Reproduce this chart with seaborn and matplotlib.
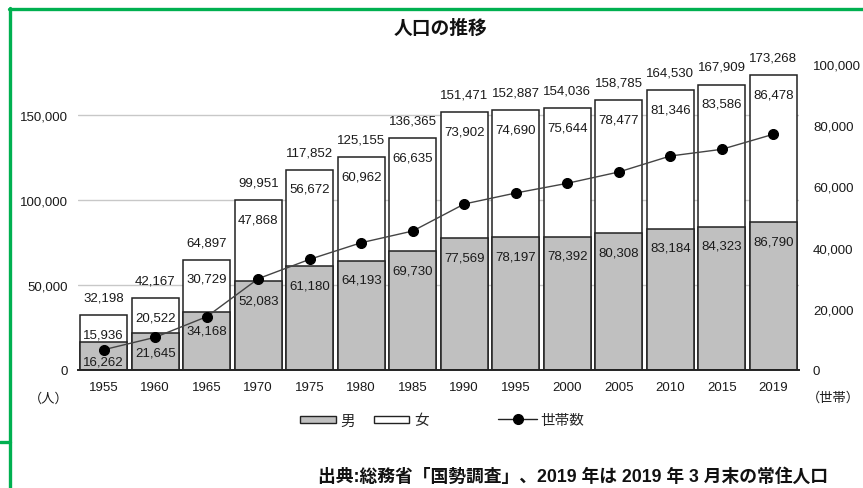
import matplotlib
matplotlib.use("Agg")
import matplotlib.pyplot as plt
from matplotlib.patches import Patch
from matplotlib.lines import Line2D
import seaborn as sns
import pandas as pd

# ---- data ----
years = ["1955", "1960", "1965", "1970", "1975", "1980", "1985",
         "1990", "1995", "2000", "2005", "2010", "2015", "2019"]
male = [16262, 21645, 34168, 52083, 61180, 64193, 69730,
        77569, 78197, 78392, 80308, 83184, 84323, 86790]
female = [15936, 20522, 30729, 47868, 56672, 60962, 66635,
          73902, 74690, 75644, 78477, 81346, 83586, 86478]
total = [32198, 42167, 64897, 99951, 117852, 125155, 136365,
         151471, 152887, 154036, 158785, 164530, 167909, 173268]
households = [6630, 10690, 17420, 29840, 36180, 41600, 45420,
              54250, 57840, 61010, 64710, 69930, 72120, 77030]

left_ticks = [0, 50000, 100000, 150000]
left_tick_labels = ["0", "50,000", "100,000", "150,000"]
right_ticks = [0, 20000, 40000, 60000, 80000, 100000]
right_tick_labels = ["0", "20,000", "40,000", "60,000", "80,000", "100,000"]

title = "人口の推移"
left_unit = "（人）"
right_unit = "（世帯）"
legend_labels = ["男", "女", "世帯数"]
footer = "出典:総務省「国勢調査」、2019 年は 2019 年 3 月末の常住人口"

df = pd.DataFrame({"year": years, "male": male, "female": female,
                   "total": total, "households": households})

# ---- style ----
sns.set_theme(style="white")
plt.rcParams["font.family"] = ["Liberation Sans", "Noto Sans CJK JP", "DejaVu Sans"]

W, H = 863, 489
fig = plt.figure(figsize=(W / 100, H / 100), dpi=100)
fig.patch.set_facecolor("white")

x0, x1, yb, yt = 78, 799, 371, 65
ax = fig.add_axes([x0 / W, 1 - yb / H, (x1 - x0) / W, (yb - yt) / H])
ax.set_facecolor("white")

edge = "#222222"
gray = "#c0c0c0"
txtc = "#1a1a1a"

sns.barplot(data=df, x="year", y="total", color="white", saturation=1,
            edgecolor=edge, linewidth=1.1, width=0.91, ax=ax, zorder=2)
sns.barplot(data=df, x="year", y="male", color=gray, saturation=1,
            edgecolor=edge, linewidth=1.1, width=0.91, ax=ax, zorder=3)

ax.set_xlim(-0.5, len(years) - 0.5)
ax.set_ylim(0, 180000)
ax.set_yticks(left_ticks)
ax.set_yticklabels(left_tick_labels)
ax.set_xlabel("")
ax.set_ylabel("")
ax.set_axisbelow(True)
ax.yaxis.grid(True, color="#c8c8c8", linewidth=1)
ax.xaxis.grid(False)
for s in ["left", "right", "top"]:
    ax.spines[s].set_visible(False)
ax.spines["bottom"].set_color("#222222")
ax.spines["bottom"].set_linewidth(1.4)
ax.spines["bottom"].set_zorder(5)
ax.tick_params(axis="y", length=0, pad=7, labelsize=9.5, colors=txtc)
ax.tick_params(axis="x", length=0, pad=8, labelsize=9.5, colors=txtc)

# data labels
fs_lab = 9.5
for i in range(len(years)):
    ax.annotate(f"{total[i]:,}", (i, total[i]), xytext=(0, 12.7),
                textcoords="offset points", ha="center", va="center",
                fontsize=fs_lab, color=txtc, zorder=6)
    ax.annotate(f"{female[i]:,}", (i, total[i]), xytext=(0, -13.7),
                textcoords="offset points", ha="center", va="center",
                fontsize=fs_lab, color=txtc, zorder=6)
    ax.annotate(f"{male[i]:,}", (i, male[i]), xytext=(0, -13.7),
                textcoords="offset points", ha="center", va="center",
                fontsize=fs_lab, color=txtc, zorder=6)

# households line on right axis
ax2 = ax.twinx()
sns.pointplot(data=df, x="year", y="households", ax=ax2, color="black",
              markers="o", errorbar=None, markersize=7.2, linewidth=1)
for ln in ax2.lines:
    ln.set_color("#444444")
    ln.set_markerfacecolor("black")
    ln.set_markeredgecolor("black")
ax2.set_xlim(-0.5, len(years) - 0.5)
ax2.set_ylim(0, 100000)
ax2.set_yticks(right_ticks)
ax2.set_yticklabels(right_tick_labels)
ax2.set_ylabel("")
ax2.set_xlabel("")
ax2.grid(False)
for s in ["left", "right", "top", "bottom"]:
    ax2.spines[s].set_visible(False)
ax2.tick_params(axis="y", length=0, pad=10, labelsize=9.5, colors=txtc)

# title, units, footer
fig.text(440 / W, 1 - 29 / H, title, ha="center", va="center",
         fontsize=13.5, fontweight="bold", color="#111111")
fig.text(49 / W, 1 - 399 / H, left_unit, ha="center", va="center",
         fontsize=9.5, color=txtc)
fig.text(833 / W, 1 - 398 / H, right_unit, ha="center", va="center",
         fontsize=9.5, color=txtc)
fig.text(318 / W, 1 - 477 / H, footer, ha="left", va="center",
         fontsize=12.8, fontweight="bold", color="#111111")

# legend
fs_leg = 10.5
h1 = [Patch(facecolor=gray, edgecolor=edge, linewidth=1),
      Patch(facecolor="white", edgecolor=edge, linewidth=1)]
leg1 = fig.legend(h1, legend_labels[:2], loc="center left",
                  bbox_to_anchor=(300 / W, 1 - 421.5 / H), ncol=2,
                  frameon=False, fontsize=fs_leg, borderpad=0,
                  borderaxespad=0, handlelength=2.45, handleheight=0.42,
                  handletextpad=0.3, columnspacing=1.3)
h2 = [Line2D([0], [0], color="#222222", lw=1, marker="o",
             markersize=7, markerfacecolor="black", markeredgecolor="black")]
leg2 = fig.legend(h2, legend_labels[2:], loc="center left",
                  bbox_to_anchor=(498 / W, 1 - 421.5 / H),
                  frameon=False, fontsize=fs_leg, borderpad=0,
                  borderaxespad=0, handlelength=2.7, handletextpad=0.2)

# green frame
green = "#00b050"
fig.add_artist(Line2D([8.5 / W, 1.0], [1 - 9.5 / H, 1 - 9.5 / H],
                      color=green, lw=2.4, transform=fig.transFigure))
fig.add_artist(Line2D([10 / W, 10 / W], [1 - 8.5 / H, 0.0],
                      color=green, lw=2.4, transform=fig.transFigure))
fig.add_artist(Line2D([0.0, 10 / W], [1 - 443 / H, 1 - 443 / H],
                      color=green, lw=2.4, transform=fig.transFigure))

fig.savefig("out.png", dpi=100, facecolor="white")
